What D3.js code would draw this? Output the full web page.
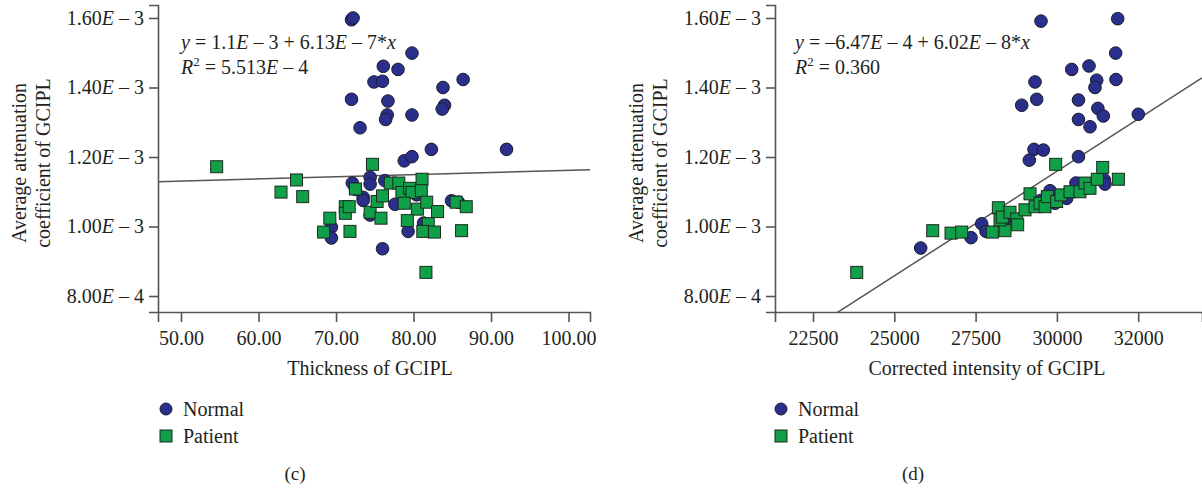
<!DOCTYPE html>
<html>
<head>
<meta charset="utf-8">
<script src="https://cdn.jsdelivr.net/npm/d3@7"></script>
<style>
  html, body { margin: 0; padding: 0; background: #fff; }
  text { font-family: 'Liberation Serif', 'DejaVu Serif', serif; fill: #231f20; }
</style>
</head>
<body>
<div id="chart"></div>
<script>
// panel (c): thickness vs attenuation
const normalThickness = [72.0, 72.2, 79.8, 76.1, 78.0, 74.9, 76.0, 86.4, 83.8, 72.0, 76.7, 84.0, 83.7, 76.6, 76.4, 79.8, 73.1, 82.3, 92.0, 78.8, 79.8,
  74.4, 72.1, 74.4, 76.3, 72.5, 73.5, 73.5, 77.6, 74.4, 69.4, 69.4, 79.3, 76.0, 84.9, 85.8, 80.4, 81.3];
const normalAttenC = [1.595, 1.600, 1.499, 1.461, 1.452, 1.416, 1.418, 1.423, 1.400, 1.366, 1.361, 1.349, 1.338, 1.321, 1.308, 1.321, 1.284, 1.222, 1.222, 1.189, 1.201,
  1.142, 1.125, 1.122, 1.132, 1.107, 1.084, 1.075, 1.064, 1.033, 0.998, 0.967, 0.986, 0.936, 1.074, 1.070, 1.091, 1.010];
const patientThickness = [54.6, 74.7, 64.9, 62.9, 65.7, 71.2, 71.2, 71.7, 69.2, 68.4, 71.8, 72.5, 74.4, 75.3, 76.0, 75.8, 77.0, 78.1, 78.5, 79.5, 79.8,
  78.8, 80.5, 81.1, 81.0, 81.7, 83.1, 79.2, 81.9, 81.2, 82.7, 85.5, 86.8, 86.2, 81.6];
const patientAttenC = [1.172, 1.179, 1.134, 1.099, 1.086, 1.057, 1.038, 1.057, 1.024, 0.984, 0.986, 1.108, 1.041, 1.072, 1.088, 1.024, 1.125, 1.125, 1.098, 1.110, 1.098,
  1.067, 1.050, 1.136, 1.103, 1.070, 1.043, 1.017, 1.008, 0.986, 0.984, 1.070, 1.057, 0.988, 0.868];

// panel (d): corrected intensity vs attenuation
const normalIntensity = [29511, 31870, 31808, 30455, 30987, 31224, 31171, 31817, 29327, 28918, 29379, 30664, 31260, 31427, 30664, 31018, 32503, 29296, 29583, 29151, 30664,
  25812, 27359, 27687, 27820, 29788, 29942, 30301, 30587, 31459, 31479, 28456, 29500, 30900];
const normalAttenD = [1.591, 1.598, 1.499, 1.452, 1.462, 1.421, 1.400, 1.423, 1.416, 1.349, 1.366, 1.364, 1.340, 1.318, 1.308, 1.287, 1.323, 1.222, 1.220, 1.191, 1.201,
  0.938, 0.968, 1.008, 0.986, 1.103, 1.067, 1.081, 1.125, 1.134, 1.122, 1.024, 1.075, 1.110];
const patientIntensity = [23844, 26181, 26744, 27072, 28014, 28404, 28199, 28250, 28321, 28558, 28763, 28794, 29019, 29173, 29327, 29481, 29634, 29706, 29962, 29993,
  30126, 30403, 30710, 30864, 31018, 31242, 31408, 31890];
const patientAttenD = [0.868, 0.988, 0.981, 0.984, 0.984, 0.988, 1.054, 1.019, 1.027, 1.041, 1.022, 1.005, 1.048, 1.094, 1.057, 1.067, 1.057, 1.086, 1.179, 1.072,
  1.091, 1.100, 1.100, 1.125, 1.110, 1.136, 1.170, 1.136];

// attenuation values above are in units of 1E-3
const attenUnit = 1e-3;

const yTickValues = [0.0008, 0.0010, 0.0012, 0.0014, 0.0016];
const yTickLabels = ['8.00E – 4', '1.00E – 3', '1.20E – 3', '1.40E – 3', '1.60E – 3'];
const xTickValuesC = [50, 60, 70, 80, 90, 100];
const xTickLabelsC = ['50.00', '60.00', '70.00', '80.00', '90.00', '100.00'];
const xTickValuesD = [22500, 25000, 27500, 30000, 32500];
const xTickLabelsD = ['22500', '25000', '27500', '30000', '32000'];

// fit lines as printed on the chart
const fitC = { a: 1.1e-3, b: 6.13e-7 };
const fitD = { a: -6.47e-4, b: 6.02e-8 };

const eqC = [
  [['y', 'i'], [' = 1.1'], ['E', 'i'], [' – 3 + 6.13'], ['E', 'i'], [' – 7*'], ['x', 'i']],
  [['R', 'i'], ['2', 'sup'], [' = 5.513'], ['E', 'i'], [' – 4']],
];
const eqD = [
  [['y', 'i'], [' = –6.47'], ['E', 'i'], [' – 4 + 6.02'], ['E', 'i'], [' – 8*'], ['x', 'i']],
  [['R', 'i'], ['2', 'sup'], [' = 0.360']],
];

const W = 1202;
const H = 489;
const circleFill = '#2b2f8c';
const squareFill = '#10a04a';
const markStroke = '#1c1c2a';
const axisColor = '#555';

const svg = d3.select('#chart').append('svg').attr('width', W).attr('height', H);

const richText = (sel, parts) => {
  let raised = false;
  parts.forEach(([t, s]) => {
    const ts = sel.append('tspan').text(t);
    if (s === 'i') ts.style('font-style', 'italic');
    if (s === 'sup') {
      ts.attr('dy', -8).style('font-size', '13px');
      raised = true;
    } else if (raised) {
      ts.attr('dy', 8);
      raised = false;
    }
  });
};

const sciLabel = (textSel) => {
  textSel.each(function () {
    const t = d3.select(this);
    const [mant, rest] = t.text().split('E');
    t.text('');
    richText(t, [[mant], ['E', 'i'], [rest]]);
  });
};

const makePanel = (opts) => {
  const top = 5;
  const bottom = 312;
  const g = svg.append('g');

  const x = d3.scaleLinear().domain(opts.xDomain).range([opts.left, opts.right]);
  const y = d3.scaleLinear().domain([0.000754, 0.0016374]).range([bottom, top]);

  // y axis
  const yAx = g.append('g')
    .attr('transform', `translate(${opts.left},0)`)
    .call(d3.axisLeft(y).tickValues(yTickValues).tickSize(9).tickPadding(5)
      .tickFormat((d, i) => yTickLabels[i]));
  yAx.selectAll('text').style('font-size', '20px').call(sciLabel);

  // x axis
  const xAx = g.append('g')
    .attr('transform', `translate(0,${bottom})`)
    .call(d3.axisBottom(x).tickValues(opts.xTicks).tickSize(10).tickPadding(9)
      .tickFormat((d, i) => opts.xLabels[i]));
  xAx.selectAll('text').style('font-size', '20px');

  [yAx, xAx].forEach((ax) => {
    ax.select('.domain').attr('stroke', axisColor).attr('stroke-width', 1.6);
    ax.selectAll('.tick line').attr('stroke', axisColor).attr('stroke-width', 1.6);
  });

  // axis titles
  const yt = g.append('text')
    .attr('transform', `translate(${opts.left - 127},163) rotate(-90)`)
    .attr('text-anchor', 'middle')
    .style('font-size', '20px');
  yt.append('tspan').attr('x', 0).attr('dy', -5).text('Average attenuation');
  yt.append('tspan').attr('x', 0).attr('dy', 24).text('coefficient of GCIPL');

  g.append('text')
    .attr('x', opts.titleX)
    .attr('y', 375)
    .attr('text-anchor', 'middle')
    .style('font-size', '20px')
    .text(opts.xTitle);

  // clip for fit line
  const clipId = `clip-${opts.tag}`;
  svg.append('clipPath').attr('id', clipId)
    .append('rect')
    .attr('x', opts.left)
    .attr('y', top)
    .attr('width', opts.right - opts.left)
    .attr('height', bottom - top);

  const fitLine = d3.line()
    .x((d) => x(d))
    .y((d) => y(opts.fit.a + opts.fit.b * d));

  g.append('path')
    .attr('clip-path', `url(#${clipId})`)
    .attr('d', fitLine(opts.xDomain))
    .attr('fill', 'none')
    .attr('stroke', '#555')
    .attr('stroke-width', 1.5);

  // normal (circles)
  g.append('g')
    .selectAll('circle')
    .data(opts.normX.map((v, i) => [v, opts.normY[i] * attenUnit]))
    .join('circle')
    .attr('cx', (d) => x(d[0]))
    .attr('cy', (d) => y(d[1]))
    .attr('r', 6.3)
    .attr('fill', circleFill)
    .attr('stroke', markStroke)
    .attr('stroke-width', 1);

  // patient (squares)
  const s = 12;
  g.append('g')
    .selectAll('rect')
    .data(opts.patX.map((v, i) => [v, opts.patY[i] * attenUnit]))
    .join('rect')
    .attr('x', (d) => x(d[0]) - s / 2)
    .attr('y', (d) => y(d[1]) - s / 2)
    .attr('width', s)
    .attr('height', s)
    .attr('fill', squareFill)
    .attr('stroke', '#1b2a1e')
    .attr('stroke-width', 1);

  // equation
  opts.eq.forEach((line, i) => {
    const t = g.append('text')
      .attr('x', opts.eqX)
      .attr('y', 49 + i * 25)
      .style('font-size', '20px');
    richText(t, line);
  });

  // legend
  const lx = opts.legendX;
  g.append('circle')
    .attr('cx', lx).attr('cy', 409).attr('r', 6)
    .attr('fill', circleFill).attr('stroke', markStroke);
  g.append('text').attr('x', lx + 17).attr('y', 416).style('font-size', '20px').text('Normal');
  g.append('rect')
    .attr('x', lx - 6).attr('y', 430).attr('width', 12).attr('height', 12)
    .attr('fill', squareFill).attr('stroke', '#1b2a1e');
  g.append('text').attr('x', lx + 17).attr('y', 443).style('font-size', '20px').text('Patient');

  g.append('text')
    .attr('x', opts.tagX)
    .attr('y', 480)
    .attr('text-anchor', 'middle')
    .style('font-size', '19px')
    .text(`(${opts.tag})`);
};

makePanel({
  tag: 'c',
  left: 158,
  right: 590,
  xDomain: [47.03, 102.77],
  xTicks: xTickValuesC,
  xLabels: xTickLabelsC,
  xTitle: 'Thickness of GCIPL',
  titleX: 370,
  fit: fitC,
  normX: normalThickness,
  normY: normalAttenC,
  patX: patientThickness,
  patY: patientAttenC,
  eq: eqC,
  eqX: 181,
  legendX: 166,
  tagX: 295,
});

makePanel({
  tag: 'd',
  left: 775,
  right: 1202,
  xDomain: [21331, 34462],
  xTicks: xTickValuesD,
  xLabels: xTickLabelsD,
  xTitle: 'Corrected intensity of GCIPL',
  titleX: 987,
  fit: fitD,
  normX: normalIntensity,
  normY: normalAttenD,
  patX: patientIntensity,
  patY: patientAttenD,
  eq: eqD,
  eqX: 795,
  legendX: 781,
  tagX: 913,
});
</script>
</body>
</html>
